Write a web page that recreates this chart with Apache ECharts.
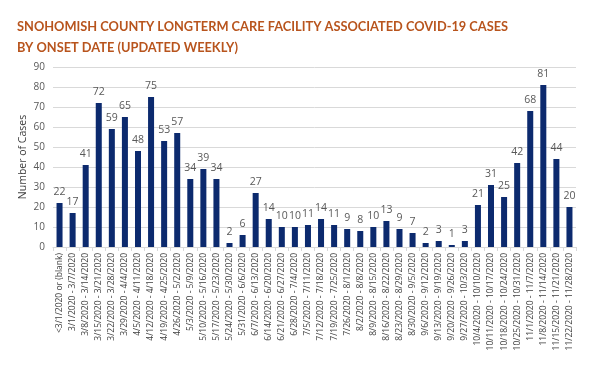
<!DOCTYPE html>
<html><head><meta charset="utf-8">
<script src="https://cdn.jsdelivr.net/npm/echarts@6/dist/echarts.min.js"></script>
<style>html,body{margin:0;padding:0;background:#fff}#c{width:609px;height:379px}</style>
</head><body><div id="c"></div>
<script>
const titleLines = ["SNOHOMISH COUNTY LONGTERM CARE FACILITY ASSOCIATED COVID-19 CASES", "BY ONSET DATE (UPDATED WEEKLY)"];
const yAxisName = "Number of Cases";
const categories = [
"<3/1/2020 or (blank)","3/1/2020 - 3/7/2020","3/8/2020 - 3/14/2020","3/15/2020 - 3/21/2020","3/22/2020 - 3/28/2020","3/29/2020 - 4/4/2020","4/5/2020 - 4/11/2020","4/12/2020 - 4/18/2020","4/19/2020 - 4/25/2020","4/26/2020 - 5/2/2020","5/3/2020 - 5/9/2020","5/10/2020 - 5/16/2020","5/17/2020 - 5/23/2020","5/24/2020 - 5/30/2020","5/31/2020 - 6/6/2020","6/7/2020 - 6/13/2020","6/14/2020 - 6/20/2020","6/21/2020 - 6/27/2020","6/28/2020 - 7/4/2020","7/5/2020 - 7/11/2020","7/12/2020 - 7/18/2020","7/19/2020 - 7/25/2020","7/26/2020 - 8/1/2020","8/2/2020 - 8/8/2020","8/9/2020 - 8/15/2020","8/16/2020 - 8/22/2020","8/23/2020 - 8/29/2020","8/30/2020 - 9/5/2020","9/6/2020 - 9/12/2020","9/13/2020 - 9/19/2020","9/20/2020 - 9/26/2020","9/27/2020 - 10/3/2020","10/4/2020 - 10/10/2020","10/11/2020 - 10/17/2020","10/18/2020 - 10/24/2020","10/25/2020 - 10/31/2020","11/1/2020 - 11/7/2020","11/8/2020 - 11/14/2020","11/15/2020 - 11/21/2020","11/22/2020 - 11/28/2020"];
const cases = [22,17,41,72,59,65,48,75,53,57,34,39,34,2,6,27,14,10,10,11,14,11,9,8,10,13,9,7,2,3,1,3,21,31,25,42,68,81,44,20];
const yTicks = {min:0, max:90, interval:10};

const chart = echarts.init(document.getElementById('c'));
chart.setOption({
  animation:false,
  title:{
    text: titleLines.join('\n'),
    left: 12, top: 11,
    textStyle:{color:'#b8541d', fontFamily:'Lato', fontWeight:'bold', fontSize:12.8, lineHeight:21}
  },
  grid:{left:53, right:33, top:67, bottom:132},
  xAxis:{
    type:'category', data:categories,
    axisLine:{lineStyle:{color:'#d9d9d9'}},
    axisTick:{show:true, alignWithLabel:false, lineStyle:{color:'#d9d9d9'}, length:4},
    axisLabel:{rotate:90, interval:0, fontSize:8.5, color:'#404040', fontFamily:'Open Sans', margin:6}
  },
  yAxis:{
    type:'value', min:yTicks.min, max:yTicks.max, interval:yTicks.interval,
    name:yAxisName, nameLocation:'middle', nameGap:24, nameRotate:90, nameMoveOverlap:false,
    nameTextStyle:{color:'#404040', fontSize:10.5, fontFamily:'Open Sans'},
    axisLine:{show:false}, axisTick:{show:false},
    axisLabel:{color:'#595959', fontSize:10, fontFamily:'Open Sans', margin:8},
    splitLine:{lineStyle:{color:'#d9d9d9'}}
  },
  series:[{
    type:'bar', data:cases, barCategoryGap:'54%',
    itemStyle:{color:'#0c2a6e'},
    label:{show:true, position:'top', color:'#595959', fontSize:10.5, fontFamily:'Open Sans', distance:5}
  }]
});
</script></body></html>
